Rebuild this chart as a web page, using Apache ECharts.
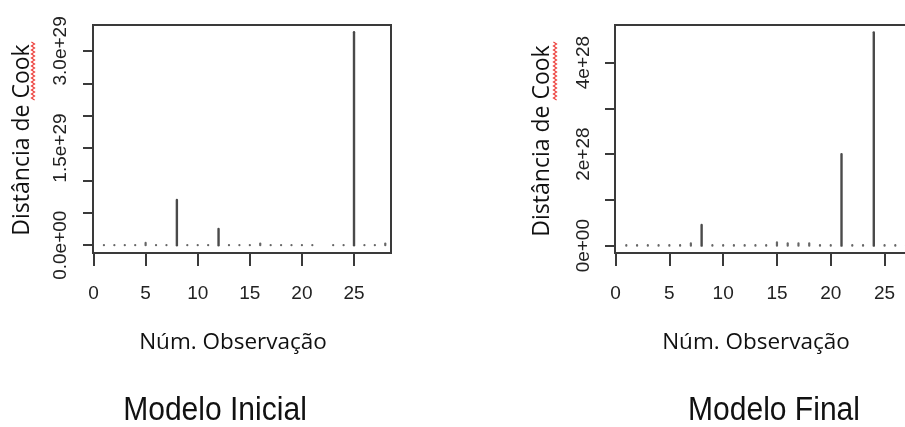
<!DOCTYPE html>
<html>
<head>
<meta charset="utf-8">
<script src="https://cdn.jsdelivr.net/npm/echarts@6/dist/echarts.min.js"></script>
<style>
  html, body { margin: 0; padding: 0; background: #fff; }
  #chart { width: 905px; height: 427px; }
</style>
</head>
<body>
<div id="chart"></div>
<script>
// Observation numbers and Cook's distances for the two models
const obsInicial = [1,2,3,4,5,6,7,8,9,10,11,12,13,14,15,16,17,18,19,20,21,22,23,24,25,26,27,28];
const cookInicial = [0.003e29,0.002e29,0.002e29,0.002e29,0.035e29,0.003e29,0.002e29,0.70e29,0.002e29,0.002e29,
                     0.002e29,0.25e29,0.002e29,0.003e29,0.002e29,0.025e29,0.002e29,0.002e29,0.002e29,0.002e29,
                     0.002e29,null,0.002e29,0.002e29,3.29e29,0.002e29,0.002e29,0.025e29];

const obsFinal = [1,2,3,4,5,6,7,8,9,10,11,12,13,14,15,16,17,18,19,20,21,22,23,24,25,26,27];
const cookFinal = [0.01e28,0.01e28,0.01e28,0.01e28,0.01e28,0.01e28,0.05e28,0.45e28,0.01e28,0.01e28,
                   0.01e28,0.01e28,0.01e28,0.01e28,0.07e28,0.05e28,0.05e28,0.05e28,0.01e28,0.01e28,
                   2.0e28,0.01e28,0.01e28,4.66e28,0.01e28,0.01e28,0.01e28];

// Axis ticks and labels
const xTicks = [0, 5, 10, 15, 20, 25];
const yTicksInicial = [0, 0.5e29, 1.0e29, 1.5e29, 2.0e29, 2.5e29, 3.0e29];
const yLabelValsInicial = [0, 1.5e29, 3.0e29];
const yLabelTextInicial = ['0.0e+00', '1.5e+29', '3.0e+29'];
const yTicksFinal = [0, 1e28, 2e28, 3e28, 4e28];
const yLabelValsFinal = [0, 2e28, 4e28];
const yLabelTextFinal = ['0e+00', '2e+28', '4e+28'];

const xTitle = 'Núm. Observação';
const yTitle = 'Distância de Cook';
const titles = ['Modelo Inicial', 'Modelo Final'];

const ink = '#3a3a3a';
const labelFont = 'Liberation Sans, Arial, sans-serif';

function pairs(xs, ys) {
  return xs.map((x, i) => [x, ys[i] == null ? NaN : ys[i]]);
}

// vertical "h"-type segments from zero up to the value
function renderSpike(params, api) {
  const v = api.value(1);
  if (isNaN(v)) return null;
  const x = api.value(0);
  const p0 = api.coord([x, 0]);
  const p1 = api.coord([x, v]);
  const tall = Math.abs(p0[1] - p1[1]) > 4;
  return {
    type: 'line',
    shape: { x1: p0[0], y1: p0[1], x2: p1[0], y2: p1[1] },
    style: { stroke: tall ? '#4a4a4a' : '#666', lineWidth: tall ? 2.4 : 2.2, lineCap: 'round' }
  };
}

function makeX(idx, max) {
  return {
    type: 'value', gridIndex: idx, min: -0.05, max: max,
    splitLine: { show: false },
    axisLine: { show: false, onZero: false },
    axisTick: { show: true, customValues: xTicks, length: 13, lineStyle: { color: ink, width: 2 } },
    axisLabel: { customValues: xTicks, margin: 31, fontSize: 19, color: '#222', fontFamily: labelFont }
  };
}

function makeY(idx, min, max, ticks, labVals, labTexts, margin) {
  return {
    type: 'value', gridIndex: idx, min: min, max: max,
    splitLine: { show: false },
    axisLine: { show: false, onZero: false },
    axisTick: { show: true, customValues: ticks, length: 10, lineStyle: { color: ink, width: 2 } },
    axisLabel: {
      customValues: labVals, rotate: 90, margin: margin, fontSize: 19, color: '#222', fontFamily: labelFont,
      formatter: function (val) {
        const i = labVals.findIndex(t => Math.abs(t - val) <= Math.abs(t) * 1e-9 + 1e-9);
        return i >= 0 ? labTexts[i] : '';
      }
    }
  };
}

// spell-check style wavy underline
function squiggle(x, y0, y1) {
  const pts = [];
  let k = 0;
  for (let y = y0; y <= y1; y += 2) {
    pts.push([x + (k % 2 === 0 ? -1.6 : 1.6), y]);
    k++;
  }
  return { type: 'polyline', shape: { points: pts }, style: { stroke: '#ec3a36', lineWidth: 1.1, fill: null }, z: 10 };
}

function textEl(str, x, y, font, opts) {
  return Object.assign({
    type: 'text', x: x, y: y,
    style: { text: str, font: font, fill: '#111', align: 'center', verticalAlign: 'middle' }
  }, opts || {});
}

const chart = echarts.init(document.getElementById('chart'), null, { renderer: 'canvas' });
chart.setOption({
  animation: false,
  backgroundColor: '#ffffff',
  grid: [
    { left: 93, top: 25, width: 298, height: 228, show: true, borderColor: ink, borderWidth: 2,
      backgroundColor: 'transparent', outerBoundsMode: 'none' },
    { left: 615, top: 25, width: 307, height: 228, show: true, borderColor: ink, borderWidth: 2,
      backgroundColor: 'transparent', outerBoundsMode: 'none' }
  ],
  xAxis: [makeX(0, 28.55), makeX(1, 28.48)],
  yAxis: [
    makeY(0, -0.12e29, 3.40e29, yTicksInicial, yLabelValsInicial, yLabelTextInicial, 23),
    makeY(1, -0.16e28, 4.82e28, yTicksFinal, yLabelValsFinal, yLabelTextFinal, 22)
  ],
  series: [
    { type: 'custom', xAxisIndex: 0, yAxisIndex: 0, renderItem: renderSpike, data: pairs(obsInicial, cookInicial), clip: true },
    { type: 'custom', xAxisIndex: 1, yAxisIndex: 1, renderItem: renderSpike, data: pairs(obsFinal, cookFinal), clip: true }
  ],
  graphic: [
    textEl(yTitle, 22, 140, '23px "Open Sans", sans-serif', { rotation: Math.PI / 2 }),
    textEl(yTitle, 542, 141, '23px "Open Sans", sans-serif', { rotation: Math.PI / 2 }),
    squiggle(33, 42, 101),
    squiggle(555, 42, 100),
    textEl(xTitle, 233, 343, '22.5px "Open Sans", sans-serif'),
    textEl(xTitle, 756, 343, '22.5px "Open Sans", sans-serif'),
    textEl(titles[0], 215, 411, '33px "Liberation Sans", Arial, sans-serif', { scaleX: 0.91 }),
    textEl(titles[1], 774, 411, '33px "Liberation Sans", Arial, sans-serif', { scaleX: 0.91 })
  ]
});
</script>
</body>
</html>
